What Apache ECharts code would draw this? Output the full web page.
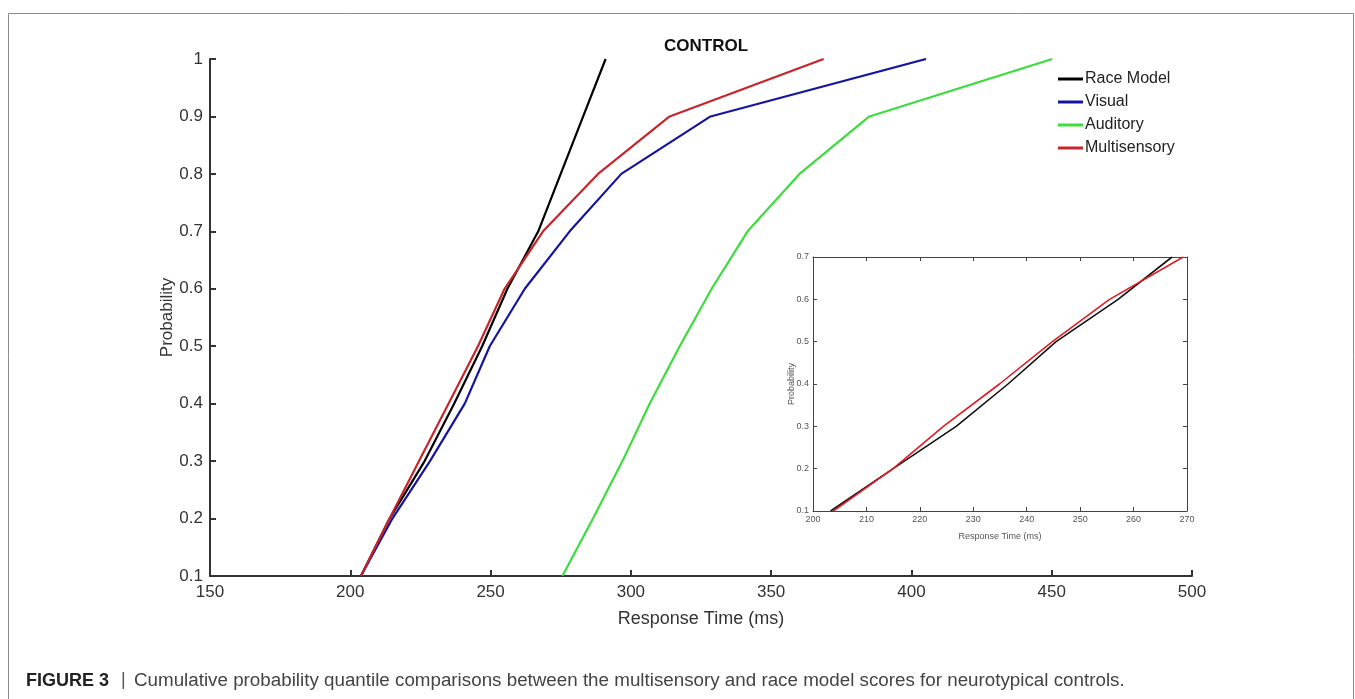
<!doctype html>
<html>
<head>
    <meta charset="utf-8">
    <title>CONTROL</title>
    <style type="text/css">
        body, html {
            width: 100%;
            height: 100%;
            margin: 0;
            padding: 0;
            background: #fff;
        }
    </style>
    <script src="https://cdn.jsdelivr.net/npm/echarts@6.0.0/dist/echarts.min.js"></script>
</head>
<body>
<div id="container" style="width: 1355px; height: 699px"></div>

<script type="text/javascript">
    // quantiles (probability) and response times (ms)
    const quantiles = [0.1, 0.2, 0.3, 0.4, 0.5, 0.6, 0.7, 0.8, 0.9, 1.0];
    const raceModel = [203.8, 214, 226.5, 237, 247, 256, 267, 275, 283, 291];
    const visual = [203.8, 215, 228.4, 240.8, 249.7, 262.2, 278.2, 296.6, 328.4, 405.2];
    const auditory = [275.6, 286.5, 297, 306.7, 317.4, 328.8, 341.6, 360.1, 385, 450.2];
    const multisensory = [203.8, 214, 224.5, 235, 245.5, 255, 268.7, 288.3, 313.8, 368.7];

    // inset: zoom on race model vs multisensory
    const insetQuantiles = [0.1, 0.2, 0.3, 0.4, 0.5, 0.6, 0.7];
    const insetRace = [203.3, 215, 226.8, 236.5, 245.5, 257.1, 267.2];
    const insetMulti = [203.8, 215, 224.4, 234.9, 244.8, 255.5, 269.3];

    const font = "'Liberation Sans', Arial, sans-serif";

    function pairs(xs, ys) {
        return xs.map(function (x, i) { return [x, ys[i]]; });
    }
    function fmt(v) {
        return String(parseFloat(v.toFixed(1)));
    }

    const dom = document.getElementById('container');
    const myChart = echarts.init(dom, null, {renderer: 'canvas'});

    const mainAxisLine = {show: true, onZero: false, lineStyle: {color: '#333', width: 2}};
    const mainTick = {show: true, inside: true, length: 6, lineStyle: {color: '#333', width: 2}};
    const insetAxisLine = {show: true, onZero: false, lineStyle: {color: '#444', width: 1}};
    const insetTick = {show: true, inside: true, length: 4, lineStyle: {color: '#444', width: 1}};

    const option = {
        animation: false,
        backgroundColor: '#fff',
        title: {
            text: 'CONTROL',
            left: 701,
            top: 33,
            textAlign: 'center',
            textStyle: {fontFamily: font, fontSize: 17, fontWeight: 'bold', color: '#111'}
        },
        legend: {
            orient: 'vertical',
            left: 1058,
            top: 71,
            padding: 0,
            icon: 'rect',
            itemWidth: 25,
            itemHeight: 3,
            itemGap: 7,
            textStyle: {fontFamily: font, fontSize: 16, color: '#222', lineHeight: 16, padding: [0, 0, 0, -3]},
            data: ['Race Model', 'Visual', 'Auditory', 'Multisensory']
        },
        grid: [
            {left: 210, top: 59, width: 982, height: 517, containLabel: false, outerBoundsMode: 'none'},
            {left: 813, top: 257, width: 374, height: 254, containLabel: false, outerBoundsMode: 'none'}
        ],
        xAxis: [
            {
                gridIndex: 0, type: 'value', min: 150, max: 500, interval: 50,
                name: 'Response Time (ms)', nameLocation: 'middle', nameGap: 34,
                nameTextStyle: {fontFamily: font, fontSize: 18, color: '#333'},
                axisLine: mainAxisLine, axisTick: mainTick, splitLine: {show: false},
                axisLabel: {fontFamily: font, fontSize: 17, color: '#333', margin: 8, hideOverlap: false}
            },
            {
                gridIndex: 1, type: 'value', min: 200, max: 270, interval: 10, position: 'bottom',
                name: 'Response Time (ms)', nameLocation: 'middle', nameGap: 21,
                nameTextStyle: {fontFamily: font, fontSize: 9, color: '#555'},
                axisLine: insetAxisLine, axisTick: insetTick, splitLine: {show: false},
                axisLabel: {fontFamily: font, fontSize: 9, color: '#555', margin: 4, hideOverlap: false}
            },
            {
                gridIndex: 1, type: 'value', min: 200, max: 270, interval: 10, position: 'top',
                axisLine: insetAxisLine, axisTick: insetTick, splitLine: {show: false},
                axisLabel: {show: false}
            }
        ],
        yAxis: [
            {
                gridIndex: 0, type: 'value', min: 0.1, max: 1, interval: 0.1,
                name: 'Probability', nameLocation: 'middle', nameGap: 34, nameMoveOverlap: false,
                nameTextStyle: {fontFamily: font, fontSize: 17, color: '#333'},
                axisLine: mainAxisLine, axisTick: mainTick, splitLine: {show: false},
                axisLabel: {fontFamily: font, fontSize: 17, color: '#333', margin: 7, formatter: fmt, hideOverlap: false}
            },
            {
                gridIndex: 1, type: 'value', min: 0.1, max: 0.7, interval: 0.1, position: 'left',
                name: 'Probability', nameLocation: 'middle', nameGap: 17, nameMoveOverlap: false,
                nameTextStyle: {fontFamily: font, fontSize: 9, color: '#555'},
                axisLine: insetAxisLine, axisTick: insetTick, splitLine: {show: false},
                axisLabel: {fontFamily: font, fontSize: 9, color: '#555', margin: 4, formatter: fmt, hideOverlap: false}
            },
            {
                gridIndex: 1, type: 'value', min: 0.1, max: 0.7, interval: 0.1, position: 'right',
                axisLine: insetAxisLine, axisTick: insetTick, splitLine: {show: false},
                axisLabel: {show: false}
            }
        ],
        series: [
            {
                name: 'Race Model', type: 'line', xAxisIndex: 0, yAxisIndex: 0,
                showSymbol: false, color: '#000', lineStyle: {width: 2.2, color: '#000'},
                data: pairs(raceModel, quantiles)
            },
            {
                name: 'Visual', type: 'line', xAxisIndex: 0, yAxisIndex: 0,
                showSymbol: false, color: '#1414a0', lineStyle: {width: 2.2, color: '#1414a0'},
                data: pairs(visual, quantiles)
            },
            {
                name: 'Auditory', type: 'line', xAxisIndex: 0, yAxisIndex: 0,
                showSymbol: false, color: '#3ddc3d', lineStyle: {width: 2.2, color: '#3ddc3d'},
                data: pairs(auditory, quantiles)
            },
            {
                name: 'Multisensory', type: 'line', xAxisIndex: 0, yAxisIndex: 0,
                showSymbol: false, color: '#c8252a', lineStyle: {width: 2.2, color: '#c8252a'},
                data: pairs(multisensory, quantiles)
            },
            {
                name: 'inset race', type: 'line', xAxisIndex: 1, yAxisIndex: 1,
                showSymbol: false, lineStyle: {width: 1.6, color: '#111'},
                data: pairs(insetRace, insetQuantiles)
            },
            {
                name: 'inset multi', type: 'line', xAxisIndex: 1, yAxisIndex: 1,
                showSymbol: false, lineStyle: {width: 1.6, color: '#e01b22'},
                data: pairs(insetMulti, insetQuantiles)
            }
        ],
        graphic: [
            {
                type: 'rect',
                shape: {x: 8.5, y: 13.5, width: 1345, height: 720},
                style: {fill: 'none', stroke: '#8a8a8a', lineWidth: 1},
                silent: true
            },
            {
                type: 'text', x: 26, y: 681,
                style: {text: 'FIGURE 3', font: 'bold 18px ' + font, fill: '#222', verticalAlign: 'middle'},
                silent: true
            },
            {
                type: 'text', x: 121, y: 680,
                style: {text: '|', font: '18px ' + font, fill: '#555', verticalAlign: 'middle'},
                silent: true
            },
            {
                type: 'text', x: 134, y: 681,
                style: {
                    text: 'Cumulative probability quantile comparisons between the multisensory and race model scores for neurotypical controls.',
                    font: '18.8px ' + font, fill: '#444', verticalAlign: 'middle'
                },
                silent: true
            }
        ]
    };

    myChart.setOption(option);
    window.addEventListener('resize', myChart.resize);
</script>
</body>
</html>
